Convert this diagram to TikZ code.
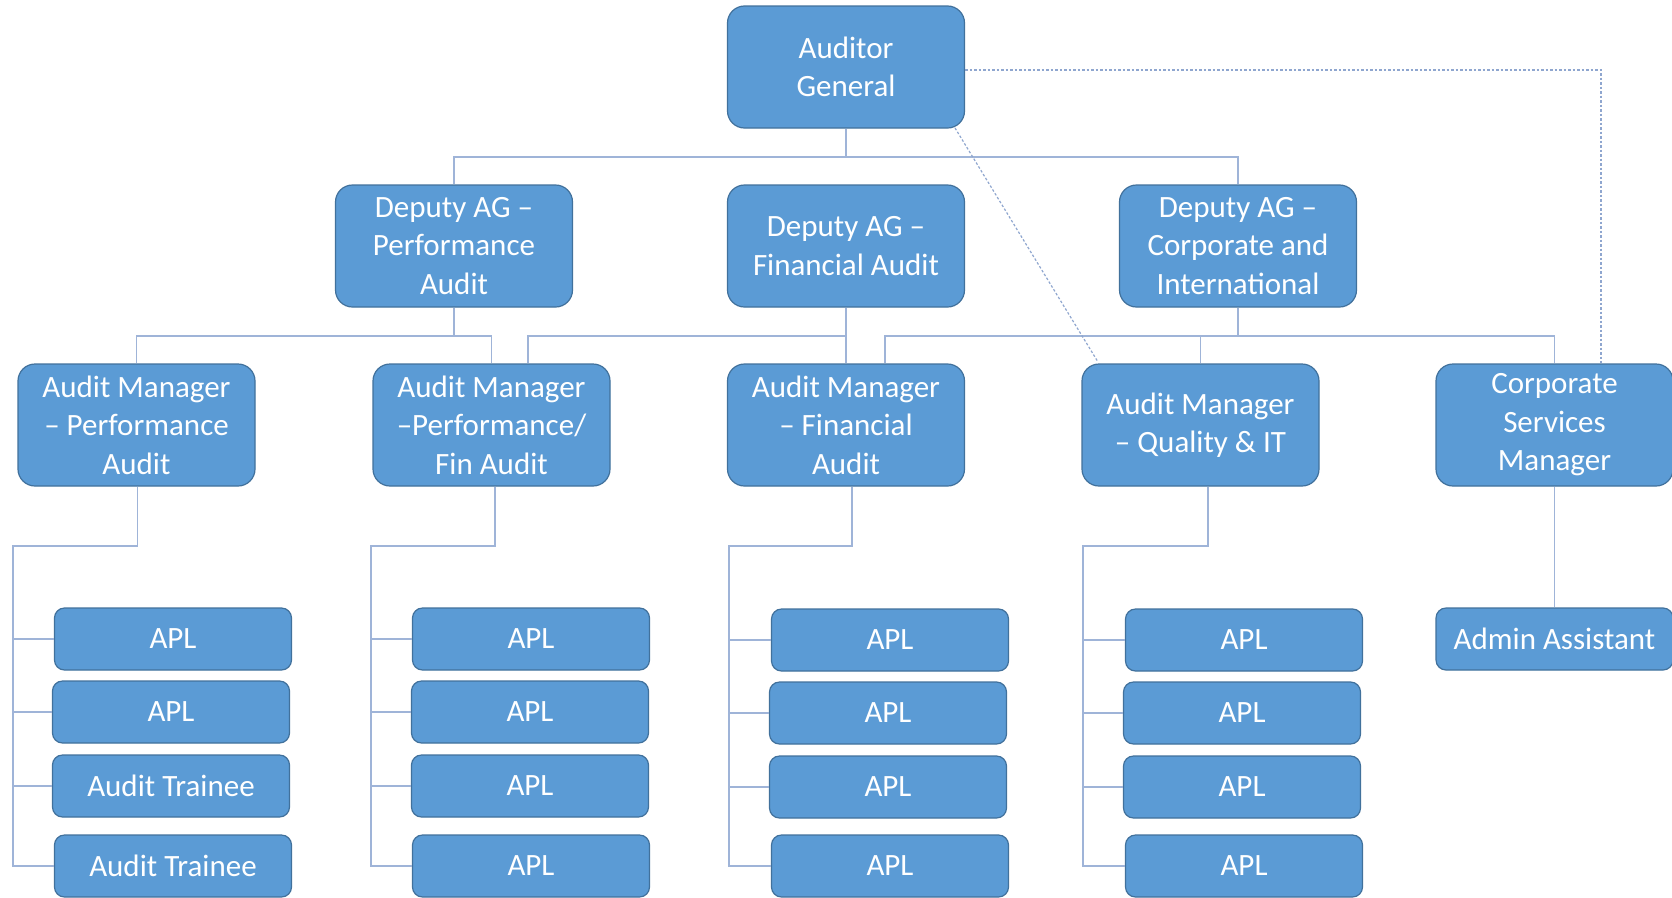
\documentclass[tikz,border=0pt]{standalone}
\usepackage{fontspec}
\setmainfont{Carlito}
\definecolor{boxfill}{HTML}{5B9BD5}
\definecolor{boxline}{HTML}{41719C}
\definecolor{conn}{HTML}{9FB4D8}
\definecolor{dotc}{HTML}{8FA6CF}
\begin{document}
\begin{tikzpicture}[x=1pt,y=-1pt,
  box/.style={draw=boxline, line width=1.2pt, fill=boxfill, text=white, align=center, inner sep=0pt},
  big/.style={box, rounded corners=17pt, minimum width=237pt, minimum height=122pt, font=\fontsize{31}{38.5}\selectfont},
  small/.style={box, rounded corners=10pt, minimum width=237pt, minimum height=62pt, font=\fontsize{31}{36}\selectfont},
  link/.style={draw=conn, line width=1.6pt},
  dotlink/.style={draw=dotc, line width=1.2pt, dash pattern=on 2.5pt off 2pt}]
\useasboundingbox (0,0) rectangle (1672,897);
\fill[white] (0,0) rectangle (1672,897);

% coordinates for bus levels
\coordinate (l1) at (0,157);
\coordinate (l2) at (0,336);
\coordinate (l3) at (0,546);

% top
\node[big] (ag) at (846,67) {Auditor\\General};
% deputies
\node[big] (dp) at (454,246) {Deputy AG --\\Performance\\Audit};
\node[big] (df) at (846,246) {Deputy AG --\\Financial Audit};
\node[big] (dc) at (1238,246) {Deputy AG --\\Corporate and\\International};
% managers
\node[big] (amp)  at (136.5,425) {Audit Manager\\-- Performance\\Audit};
\node[big] (ampf) at (491.5,425) {Audit Manager\\--Performance/\\Fin Audit};
\node[big] (amf)  at (846,425) {Audit Manager\\-- Financial\\Audit};
\node[big] (amq)  at (1200.5,425) {Audit Manager\\-- Quality \& IT};
\node[big] (csm)  at (1554.5,425) {Corporate\\Services\\Manager};

% staff
\node[small] (a1) at (173,639) {APL};
\node[small] (a2) at (171,712) {APL};
\node[small] (a3) at (171,786) {Audit Trainee};
\node[small] (a4) at (173,866) {Audit Trainee};
\node[small] (b1) at (531,639) {APL};
\node[small] (b2) at (530,712) {APL};
\node[small] (b3) at (530,786) {APL};
\node[small] (b4) at (531,866) {APL};
\node[small] (c1) at (890,640) {APL};
\node[small] (c2) at (888,713) {APL};
\node[small] (c3) at (888,787) {APL};
\node[small] (c4) at (890,866) {APL};
\node[small] (d1) at (1244,640) {APL};
\node[small] (d2) at (1242,713) {APL};
\node[small] (d3) at (1242,787) {APL};
\node[small] (d4) at (1244,866) {APL};
\node[small] (aa) at (1554.5,639) {Admin Assistant};

% level 1 connectors
\draw[link] (ag.south) -- (ag.south |- l1);
\draw[link] (dp.north) -- (dp.north |- l1) -- (dc.north |- l1) -- (dc.north);

% level 2 connectors
\draw[link] (dp.south) -- (dp.south |- l2);
\draw[link] (amp.north) -- (amp.north |- l2) -- (ampf.north |- l2) -- (ampf.north);
\coordinate (f1) at (528,0);
\draw[link] (df.south) -- (amf.north);
\draw[link] (f1 |- ampf.north) -- (f1 |- l2) -- (df.south |- l2);
\coordinate (c0) at (885,0);
\draw[link] (dc.south) -- (dc.south |- l2);
\draw[link] (c0 |- amf.north) -- (c0 |- l2) -- (csm.north |- l2) -- (csm.north);
\draw[link] (amq.north) -- (amq.north |- l2);

% level 3 connectors
\foreach \m/\dx/\c/\sx in {amp/137.5/a/13, ampf/495/b/371, amf/852/c/729, amq/1208/d/1083}{
  \coordinate (drop) at (\dx,0);
  \coordinate (spine) at (\sx,0);
  \draw[link] (drop |- \m.south) -- (drop |- l3) -- (spine |- l3) -- (spine |- \c4.west) -- (\c4.west);
  \draw[link] (spine |- \c1.west) -- (\c1.west);
  \draw[link] (spine |- \c2.west) -- (\c2.west);
  \draw[link] (spine |- \c3.west) -- (\c3.west);
}
\draw[link] (csm.south) -- (aa.north);

% dotted links
\coordinate (dr) at (1601,70);
\draw[dotlink] (ag.east |- dr) -- (dr) -- (dr |- csm.north);
\draw[dotlink] (955,128) -- (1098,362);
\end{tikzpicture}
\end{document}
